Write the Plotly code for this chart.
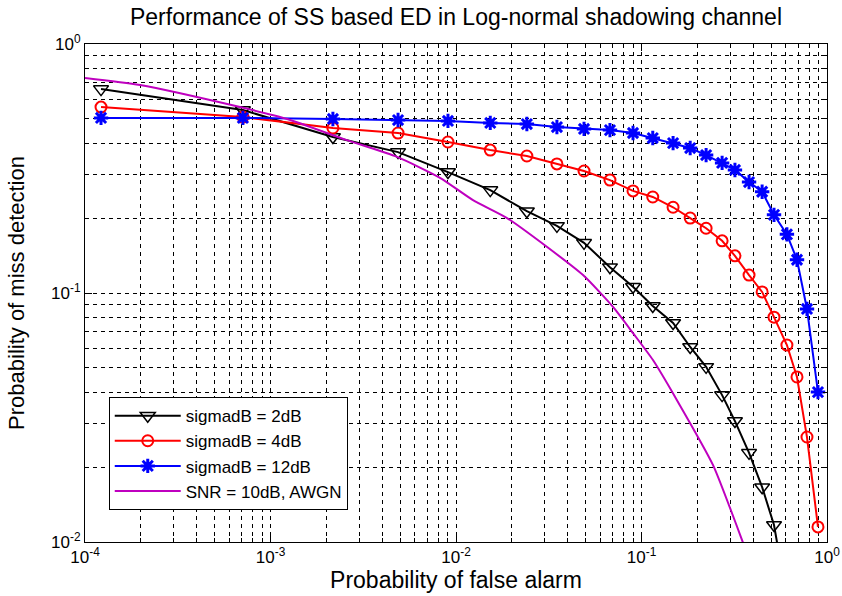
import plotly.graph_objects as go

# Common false-alarm probabilities (x) for the simulated curves
pf = [1.22e-4, 7.1e-4, 2.17e-3, 4.87e-3, 9.05e-3, 0.0153, 0.0241, 0.035, 0.049,
      0.0676, 0.090, 0.115, 0.148, 0.183, 0.223, 0.272, 0.319, 0.380, 0.447,
      0.518, 0.608, 0.689, 0.78, 0.894]

pm_sigma2 = [0.659, 0.543, 0.423, 0.368, 0.306, 0.259, 0.213, 0.186, 0.159,
             0.127, 0.106, 0.0887, 0.0758, 0.0607, 0.0505, 0.0389, 0.0306,
             0.0228, 0.0166, 0.0117, 0.0059, 0.0035, 0.0018, 0.0007]

pm_sigma4 = [0.558, 0.509, 0.460, 0.439, 0.404, 0.375, 0.355, 0.330, 0.309,
             0.284, 0.257, 0.243, 0.221, 0.200, 0.182, 0.162, 0.141, 0.118,
             0.101, 0.080, 0.0618, 0.046, 0.0264, 0.0115]

pm_sigma12 = [0.505, 0.505, 0.500, 0.495, 0.491, 0.482, 0.477, 0.464, 0.456,
              0.451, 0.439, 0.419, 0.400, 0.382, 0.358, 0.333, 0.312, 0.279,
              0.255, 0.206, 0.172, 0.136, 0.0863, 0.040]

# AWGN theoretical curve
pf_awgn = [1e-4, 1.98e-4, 6.85e-4, 1.23e-3, 2.58e-3, 4.81e-3, 8.2e-3, 0.01235,
           0.01884, 0.031, 0.0484, 0.0702, 0.090, 0.1153, 0.155, 0.2427, 0.300,
           0.348, 0.366]
pm_awgn = [0.730, 0.684, 0.558, 0.500, 0.411, 0.352, 0.290, 0.236, 0.200,
           0.153, 0.118, 0.0879, 0.069, 0.0538, 0.0372, 0.0204, 0.0137,
           0.0102, 0.0092]

major_ticks = [1e-4, 1e-3, 1e-2, 1e-1, 1]
major_text = ["10<sup>-4</sup>", "10<sup>-3</sup>", "10<sup>-2</sup>",
              "10<sup>-1</sup>", "10<sup>0</sup>"]
ymajor_ticks = [1e-2, 1e-1, 1]
ymajor_text = ["10<sup>-2</sup>", "10<sup>-1</sup>", "10<sup>0</sup>"]

xminor = [m * 10 ** e for e in range(-4, 0) for m in range(2, 10)]
yminor = [m * 10 ** e for e in range(-2, 0) for m in range(2, 10)]

FONT = "Liberation Sans, Arial"
DASH = "4px,4px"

fig = go.Figure()
fig.add_trace(go.Scatter(
    x=pf, y=pm_sigma2, mode="lines+markers", name="sigmadB = 2dB",
    line=dict(color="black", width=2),
    marker=dict(symbol="triangle-down-open", size=13, color="black",
                line=dict(color="black", width=1.5))))
fig.add_trace(go.Scatter(
    x=pf, y=pm_sigma4, mode="lines+markers", name="sigmadB = 4dB",
    line=dict(color="red", width=2),
    marker=dict(symbol="circle-open", size=11, color="red",
                line=dict(color="red", width=2))))
fig.add_trace(go.Scatter(
    x=pf, y=pm_sigma12, mode="lines+markers", name="sigmadB = 12dB",
    line=dict(color="blue", width=2),
    marker=dict(symbol="asterisk-open", size=12, color="blue",
                line=dict(color="blue", width=3))))
fig.add_trace(go.Scatter(
    x=pf_awgn, y=pm_awgn, mode="lines", name="SNR = 10dB, AWGN",
    line=dict(color="#BF00BF", width=2, shape="spline", smoothing=0.6)))

axis_common = dict(
    type="log", showline=True, linecolor="black", linewidth=1, mirror="allticks",
    ticks="inside", ticklen=7, tickcolor="black", showgrid=True,
    gridcolor="black", griddash=DASH, gridwidth=1, zeroline=False,
    automargin=False,
    tickfont=dict(family=FONT, size=17, color="black"),
)

fig.update_xaxes(
    **axis_common, range=[-4, 0], tickmode="array", tickvals=major_ticks,
    ticktext=major_text,
    minor=dict(tickvals=xminor, ticks="inside", ticklen=4, tickcolor="black",
               showgrid=True, gridcolor="black", griddash=DASH, gridwidth=1),
    title=dict(text="Probability of false alarm", standoff=5,
               font=dict(family=FONT, size=23, color="black")),
)
fig.update_yaxes(
    **axis_common, range=[-2, 0], tickmode="array", tickvals=ymajor_ticks,
    ticktext=ymajor_text,
    minor=dict(tickvals=yminor, ticks="inside", ticklen=4, tickcolor="black",
               showgrid=True, gridcolor="black", griddash=DASH, gridwidth=1),
    title=dict(text="Probability of miss detection", standoff=20,
               font=dict(family=FONT, size=22, color="black")),
)

fig.update_layout(
    width=842, height=596,
    paper_bgcolor="white", plot_bgcolor="white",
    margin=dict(l=85, r=15, t=44, b=54, autoexpand=False),
    title=dict(text="Performance of SS based ED in Log-normal shadowing channel",
               xref="paper", x=0.5, xanchor="center",
               yref="container", y=0.985, yanchor="top",
               font=dict(family=FONT, size=23, color="black")),
    legend=dict(x=0.032, y=0.064, xanchor="left", yanchor="bottom",
                bgcolor="white", bordercolor="black", borderwidth=1,
                font=dict(family=FONT, size=17, color="black"),
                itemwidth=66, tracegroupgap=0),
    showlegend=True,
)

fig.write_html(
    "out.html",
    config={"displayModeBar": False},
    post_script="document.body.style.margin='0';document.body.style.overflow='hidden';",
)
